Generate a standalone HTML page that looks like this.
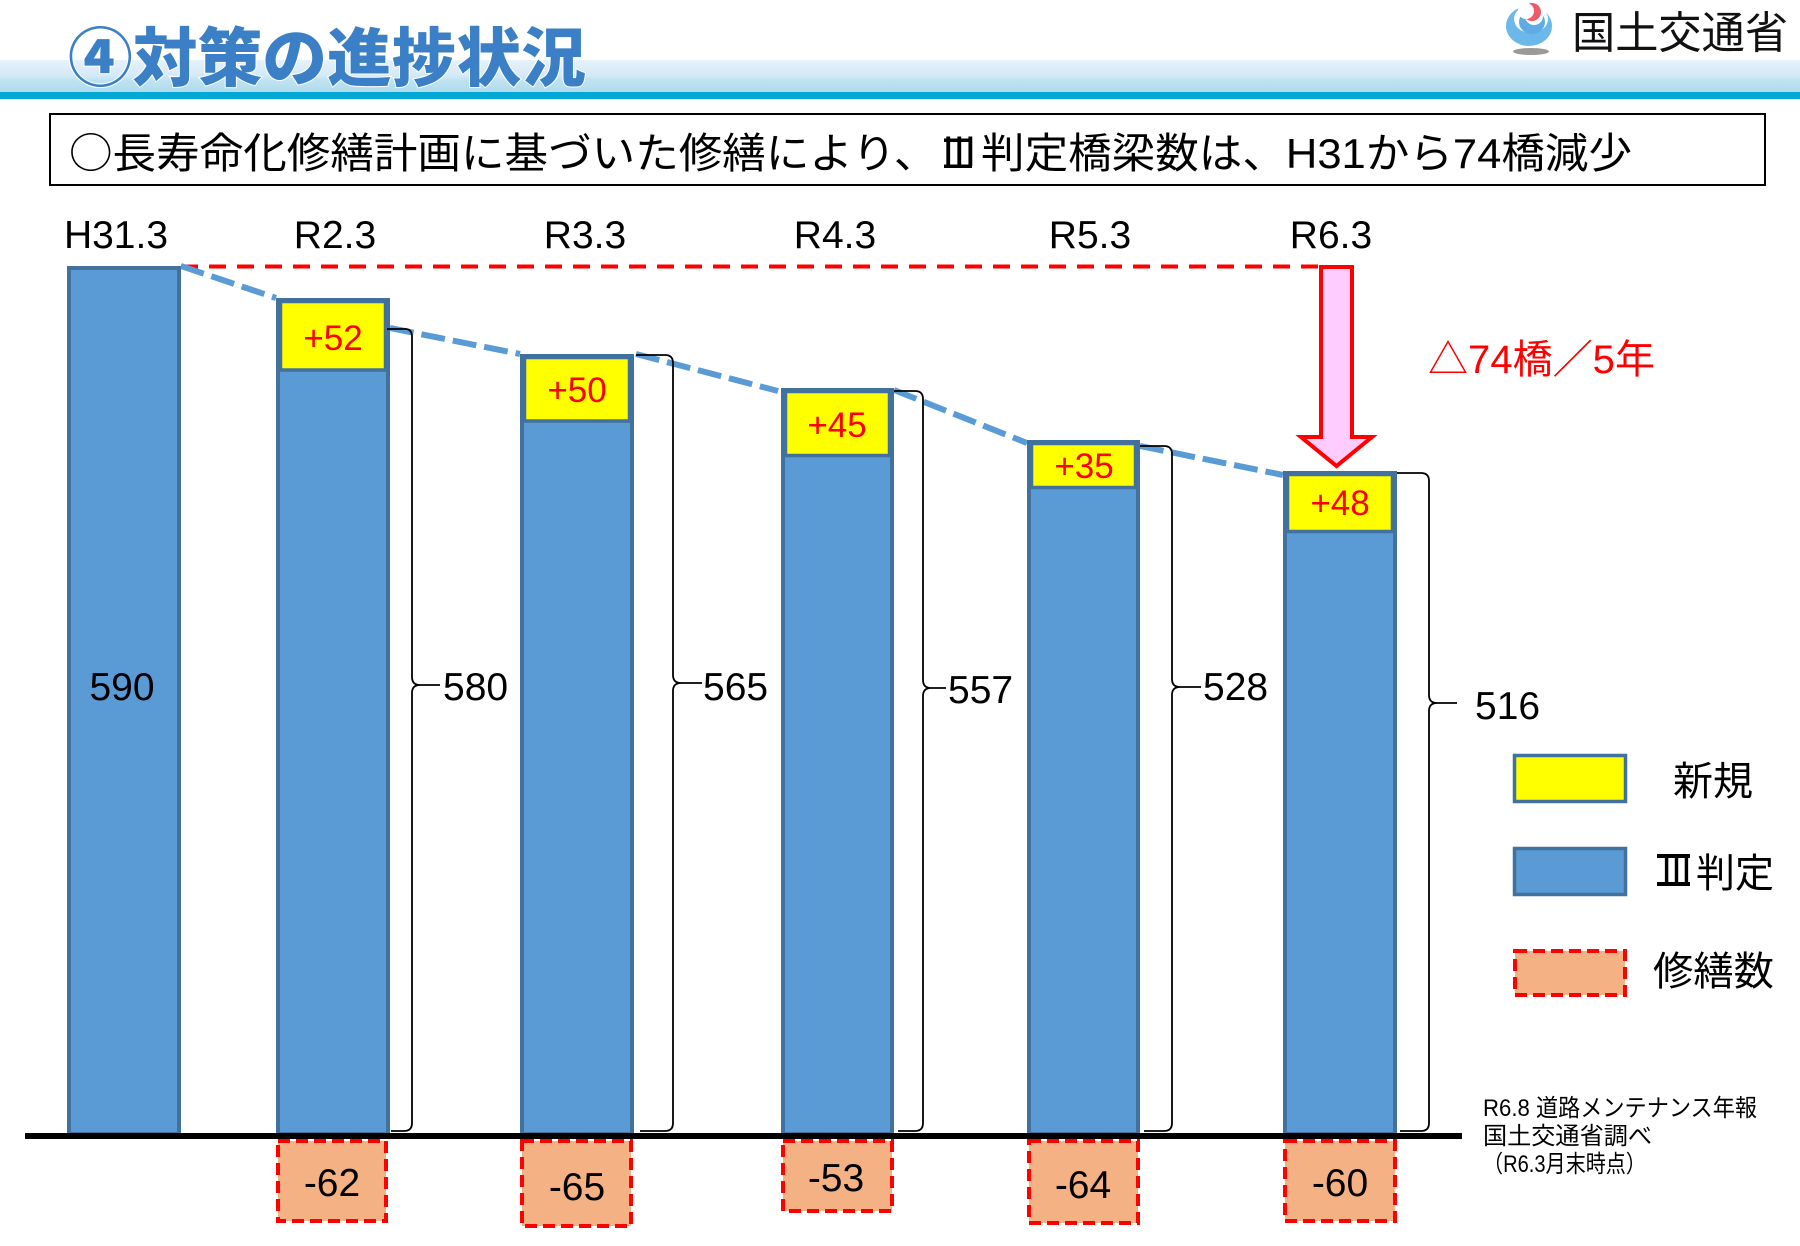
<!DOCTYPE html>
<html><head><meta charset="utf-8"><style>
html,body{margin:0;padding:0;background:#fff;}
svg{display:block;}
.l{font-family:"Liberation Sans","Noto Sans CJK JP",sans-serif;}
.j{font-family:"Liberation Sans","Noto Sans CJK JP",sans-serif;}
.c{font-family:"Noto Sans CJK JP",sans-serif;}
.r{font-family:"IPAGothic","Noto Sans CJK JP",sans-serif;}
</style></head><body>
<svg width="1800" height="1246" viewBox="0 0 1800 1246" xmlns="http://www.w3.org/2000/svg">
<defs>
<linearGradient id="band" x1="0" y1="0" x2="0" y2="1">
<stop offset="0" stop-color="#e6f2fb"/>
<stop offset="0.5" stop-color="#d3e9f7"/>
<stop offset="0.62" stop-color="#bfe3f0"/>
<stop offset="1" stop-color="#b0dcec"/>
</linearGradient>
</defs>
<rect x="0" y="0" width="1800" height="1246" fill="#fff"/>
<!-- header band -->
<rect x="0" y="60" width="1800" height="32" fill="url(#band)"/>
<rect x="0" y="92" width="1800" height="7" fill="#00a8d6"/>
<text x="68" y="81" class="j" font-size="64" font-weight="900" fill="#3b80c6" stroke="#ffffff" stroke-width="2" paint-order="stroke" textLength="518" lengthAdjust="spacingAndGlyphs">④対策の進捗状況</text>
<!-- logo -->
<ellipse cx="1529" cy="26" rx="23" ry="20" fill="#6cb8ea"/>
<ellipse cx="1531" cy="19" rx="17" ry="14" fill="#fff"/>
<ellipse cx="1532" cy="22" rx="13" ry="12" fill="#5fabe4"/>
<ellipse cx="1534" cy="16" rx="9" ry="9" fill="#fff"/>
<circle cx="1532" cy="12" r="9" fill="#ee5a6a"/>
<circle cx="1526" cy="11" r="8" fill="#fff"/>
<ellipse cx="1531" cy="51.5" rx="18" ry="3.5" fill="#9a9a9a"/>
<text x="1572" y="48" class="j" font-size="44" fill="#111" textLength="216" lengthAdjust="spacingAndGlyphs">国土交通省</text>
<!-- statement box -->
<rect x="50" y="114" width="1715" height="71" fill="#fff" stroke="#000" stroke-width="2"/>
<text x="69" y="168" class="j" font-size="42" fill="#000" textLength="1563" lengthAdjust="spacingAndGlyphs"><tspan class="c">○</tspan>長寿命化修繕計画に基づいた修繕により、<tspan class="r">Ⅲ</tspan>判定橋梁数は、H31から74橋減少</text>
<rect x="944" y="138.5" width="28" height="3.5" fill="#000"/>
<rect x="944" y="164.5" width="28" height="3.5" fill="#000"/>
<!-- category labels -->
<g class="l" font-size="39" fill="#000" text-anchor="middle">
<text x="116" y="248">H31.3</text>
<text x="335" y="248">R2.3</text>
<text x="585" y="248">R3.3</text>
<text x="835" y="248">R4.3</text>
<text x="1090" y="248">R5.3</text>
<text x="1331" y="248">R6.3</text>
</g>
<!-- red dashed reference line -->
<line x1="181" y1="266.5" x2="1320" y2="266.5" stroke="#ff0000" stroke-width="4" stroke-dasharray="17 11"/>
<!-- blue dashed trend -->
<g stroke="#5b9bd5" stroke-width="6" stroke-dasharray="24 8" fill="none">
<line x1="181" y1="266" x2="276" y2="298"/>
<line x1="390" y1="328" x2="520" y2="354"/>
<line x1="636" y1="354" x2="778" y2="391"/>
<line x1="894" y1="390" x2="1027" y2="443"/>
<line x1="1140" y1="446" x2="1283" y2="475"/>
</g>
<!-- bars -->
<g fill="#5b9bd5" stroke="#41719c" stroke-width="4">
<rect x="69" y="268" width="110" height="866"/>
<rect x="278" y="300" width="110" height="834"/>
<rect x="522" y="356" width="110" height="778"/>
<rect x="783" y="390" width="109" height="744"/>
<rect x="1029" y="442" width="109" height="692"/>
<rect x="1285" y="473" width="110" height="661"/>
</g>
<g fill="#ffff00" stroke="#41719c" stroke-width="3.5">
<rect x="280.5" y="301.5" width="105" height="68.5"/>
<rect x="524.5" y="357.5" width="105" height="63.5"/>
<rect x="785.5" y="391.5" width="104" height="64"/>
<rect x="1031.5" y="443.5" width="104" height="44"/>
<rect x="1287.5" y="474.5" width="105" height="57"/>
</g>
<g class="l" font-size="35" fill="#ff0000" text-anchor="middle">
<text x="333" y="350">+52</text>
<text x="577" y="402">+50</text>
<text x="837" y="437">+45</text>
<text x="1084" y="478">+35</text>
<text x="1340" y="515">+48</text>
</g>
<text x="122" y="700" class="l" font-size="39" fill="#000" text-anchor="middle">590</text>
<!-- brackets -->
<g fill="none" stroke="#000" stroke-width="1.8">
<path d="M387,329 L405,329 Q412,329 412,337 L412,677 Q412,685 420,685 L440,685 M420,685 Q412,685 412,693 L412,1123 Q412,1131 404,1131 L391,1131"/>
<path d="M636,355 L665,355 Q673,355 673,363 L673,675 Q673,683 681,683 L702,683 M681,683 Q673,683 673,691 L673,1123 Q673,1131 665,1131 L640,1131"/>
<path d="M894,391 L915,391 Q923,391 923,399 L923,680 Q923,688 931,688 L946,688 M931,688 Q923,688 923,696 L923,1123 Q923,1131 915,1131 L898,1131"/>
<path d="M1140,446 L1164,446 Q1172,446 1172,454 L1172,679 Q1172,687 1180,687 L1201,687 M1180,687 Q1172,687 1172,695 L1172,1123 Q1172,1131 1164,1131 L1144,1131"/>
<path d="M1397,473 L1421,473 Q1429,473 1429,481 L1429,695 Q1429,703 1437,703 L1457,703 M1437,703 Q1429,703 1429,711 L1429,1123 Q1429,1131 1421,1131 L1400,1131"/>
</g>
<g class="l" font-size="39" fill="#000">
<text x="443" y="700">580</text>
<text x="703" y="700">565</text>
<text x="948" y="703">557</text>
<text x="1203" y="700">528</text>
<text x="1475" y="719">516</text>
</g>
<!-- arrow -->
<path d="M1321,267 L1352,267 L1352,437 L1372,437 L1336.5,466 L1301,437 L1321,437 Z" fill="#ffccff" stroke="#ff0000" stroke-width="4" stroke-linejoin="miter"/>
<text x="1428" y="373" class="j" font-size="40" fill="#ff0000" textLength="227" lengthAdjust="spacingAndGlyphs">△74橋／5年</text>
<!-- baseline -->
<rect x="25" y="1133" width="1437" height="6" fill="#000"/>
<!-- negative boxes -->
<g fill="#f4b183" stroke="#ff0000" stroke-width="4" stroke-dasharray="12 6">
<rect x="278" y="1141" width="108" height="80"/>
<rect x="522" y="1141" width="109" height="85"/>
<rect x="783" y="1141" width="109" height="70"/>
<rect x="1029" y="1141" width="109" height="82"/>
<rect x="1285" y="1141" width="110" height="80"/>
</g>
<g class="l" font-size="39" fill="#000" text-anchor="middle">
<text x="332" y="1196">-62</text>
<text x="577" y="1200">-65</text>
<text x="836" y="1191">-53</text>
<text x="1083" y="1198">-64</text>
<text x="1340" y="1196">-60</text>
</g>
<!-- legend -->
<rect x="1514.5" y="755.5" width="111" height="46" fill="#ffff00" stroke="#41719c" stroke-width="3.5"/>
<rect x="1514.5" y="848.5" width="111" height="46" fill="#5b9bd5" stroke="#41719c" stroke-width="3.5"/>
<rect x="1515" y="951" width="110" height="44" fill="#f4b183" stroke="#ff0000" stroke-width="4" stroke-dasharray="12 6"/>
<g class="j" font-size="40" fill="#000">
<text x="1673" y="795" textLength="80" lengthAdjust="spacingAndGlyphs">新規</text>
<text x="1657" y="887" textLength="117" lengthAdjust="spacingAndGlyphs"><tspan class="r">Ⅲ</tspan>判定</text>
<text x="1653" y="985" textLength="121" lengthAdjust="spacingAndGlyphs">修繕数</text>
</g>
<rect x="1657" y="854" width="33" height="4" fill="#000"/>
<rect x="1657" y="882" width="33" height="4" fill="#000"/>
<!-- footnote -->
<g class="j" font-size="24" fill="#000">
<text x="1483" y="1116" textLength="274" lengthAdjust="spacingAndGlyphs">R6.8 道路メンテナンス年報</text>
<text x="1483" y="1144" textLength="169" lengthAdjust="spacingAndGlyphs">国土交通省調べ</text>
<text x="1483" y="1172" textLength="163" lengthAdjust="spacingAndGlyphs">（R6.3月末時点）</text>
</g>
</svg>
</body></html>
